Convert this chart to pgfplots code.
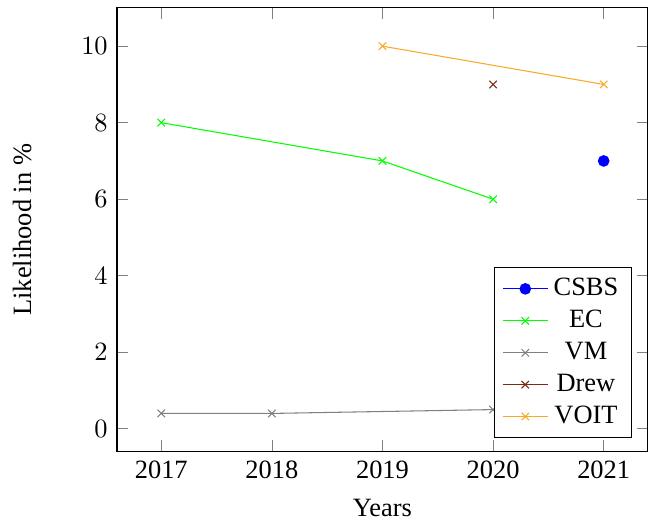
\documentclass[border=0pt]{standalone}
\usepackage{pgfplots}
\pgfplotsset{compat=1.18}
\usepackage{fontspec}
\setmainfont{Liberation Serif}
\definecolor{voit}{RGB}{250,168,40}
\definecolor{drew}{RGB}{125,40,20}
\begin{document}
\begin{tikzpicture}
\begin{axis}[
  scale only axis,
  width=201pt, height=168pt,
  xmin=2016.6, xmax=2021.4,
  ymin=-0.6, ymax=11,
  xtick={2017,2018,2019,2020,2021},
  xticklabels={2017,2018,2019,2020,2021},
  ytick={0,2,4,6,8,10},
  xlabel={Years},
  ylabel={Likelihood in $\%$},
  ylabel shift=12pt,
  xlabel shift=1pt,
  legend pos=south east,
  legend cell align=center,
]
\addplot[blue, mark=*] coordinates {(2021,7)};
\addlegendentry{CSBS}
\addplot[green, mark=x] coordinates {(2017,8) (2019,7) (2020,6)};
\addlegendentry{EC}
\addplot[gray, mark=x] coordinates {(2017,0.4) (2018,0.4) (2020,0.5)};
\addlegendentry{VM}
\addplot[drew, mark=x] coordinates {(2020,9)};
\addlegendentry{Drew}
\addplot[voit, mark=x] coordinates {(2019,10) (2021,9)};
\addlegendentry{VOIT}
\end{axis}
\path ([xshift=2.3pt,yshift=3pt]current axis.north east);
\path ([xshift=-44.3pt]current axis.west);
\end{tikzpicture}
\end{document}
